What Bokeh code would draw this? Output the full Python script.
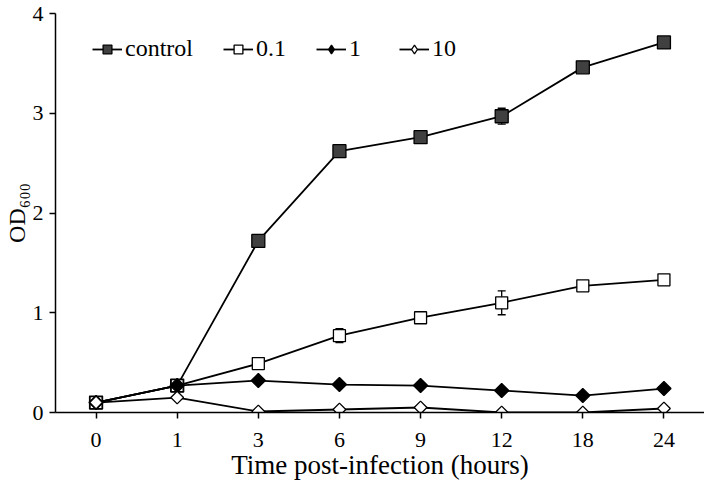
from bokeh.plotting import figure
from bokeh.models import Whisker, ColumnDataSource, Legend, LegendItem, TeeHead
from bokeh.embed import file_html
from bokeh.resources import INLINE
import math

times = ["0", "1", "3", "6", "9", "12", "18", "24"]
control = [0.10, 0.27, 1.72, 2.62, 2.76, 2.97, 3.46, 3.71]
control_err = [0.0, 0.0, 0.0, 0.0, 0.04, 0.08, 0.03, 0.0]
dose01 = [0.10, 0.27, 0.49, 0.77, 0.95, 1.10, 1.27, 1.33]
dose01_err = [0.0, 0.0, 0.04, 0.07, 0.05, 0.12, 0.04, 0.05]
dose1 = [0.10, 0.27, 0.32, 0.28, 0.27, 0.22, 0.17, 0.24]
dose10 = [0.10, 0.15, 0.01, 0.03, 0.05, 0.00, 0.00, 0.04]
y_ticks = [0, 1, 2, 3, 4]

FONT = "Liberation Serif"

p = figure(x_range=times, y_range=(0, 4), width=704, height=484,
           output_backend="svg", toolbar_location=None,
           min_border_left=54, min_border_right=0, min_border_top=13, min_border_bottom=72)
p.x_range.range_padding = 0
p.grid.visible = False
p.outline_line_color = None
p.background_fill_color = "white"

series = [
    ("control", control, "square", "#404040", 13, 0.0),
    ("0.1", dose01, "square", "white", 12, 0.0),
    ("1", dose1, "square", "black", 10, math.pi / 4),
    ("10", dose10, "square", "white", 9, math.pi / 4),
]
items = []
for name, vals, marker, fill, size, ang in series:
    src = ColumnDataSource(dict(x=times, y=vals))
    l = p.line("x", "y", source=src, line_color="black", line_width=1.8)
    s = p.scatter("x", "y", source=src, marker=marker, size=size, angle=ang, fill_color=fill,
                  line_color="black", line_width=1.3)
    if ang:
        # legend-only proxy with the diamond outline (no data point is drawn)
        proxy = ColumnDataSource(dict(x=[times[0]], y=[float("nan")]))
        s = p.scatter("x", "y", source=proxy, marker="diamond", size=14, fill_color=fill,
                      line_color="black", line_width=1.3)
    items.append(LegendItem(label=name, renderers=[l, s]))

for vals, errs in [(control, control_err), (dose01, dose01_err)]:
    xs = [t for t, e in zip(times, errs) if e > 0]
    lo = [v - e for v, e in zip(vals, errs) if e > 0]
    hi = [v + e for v, e in zip(vals, errs) if e > 0]
    wsrc = ColumnDataSource(dict(x=xs, lo=lo, hi=hi))
    w = Whisker(source=wsrc, base="x", lower="lo", upper="hi", line_color="black", line_width=1.3,
                upper_head=TeeHead(size=8, line_color="black", line_width=1.3),
                lower_head=TeeHead(size=8, line_color="black", line_width=1.3))
    p.add_layout(w)

legend = Legend(items=items, orientation="horizontal", location=(37, 350),
                label_text_font=FONT, label_text_font_size="24px", label_text_color="black",
                glyph_width=30, glyph_height=22, label_standoff=3, spacing=30,
                background_fill_alpha=0, border_line_color=None, padding=0, margin=0)
p.add_layout(legend, "center")

for ax in (p.xaxis[0], p.yaxis[0]):
    ax.axis_line_color = "black"
    ax.axis_line_width = 1.5
    ax.major_tick_line_color = "black"
    ax.major_tick_line_width = 1.5
    ax.major_tick_out = 6
    ax.major_tick_in = 0
    ax.minor_tick_line_color = None
    ax.major_label_text_font = FONT
    ax.major_label_text_font_size = "22px"
    ax.major_label_text_color = "black"

p.yaxis.ticker = y_ticks
p.yaxis.major_label_standoff = 6
p.xaxis.major_label_standoff = 14
p.xaxis.axis_label = "Time post-infection (hours)"
p.xaxis.axis_label_text_font = FONT
p.xaxis.axis_label_text_font_size = "27px"
p.xaxis.axis_label_text_font_style = "normal"
p.xaxis.axis_label_text_color = "black"
p.xaxis.axis_label_standoff = 0

p.yaxis.axis_label = "OD\u2086\u2080\u2080"
p.yaxis.axis_label_text_font = FONT
p.yaxis.axis_label_text_font_size = "24px"
p.yaxis.axis_label_text_font_style = "normal"
p.yaxis.axis_label_text_color = "black"
p.yaxis.axis_label_standoff = 0

open("out.html", "w").write(file_html(p, INLINE))
